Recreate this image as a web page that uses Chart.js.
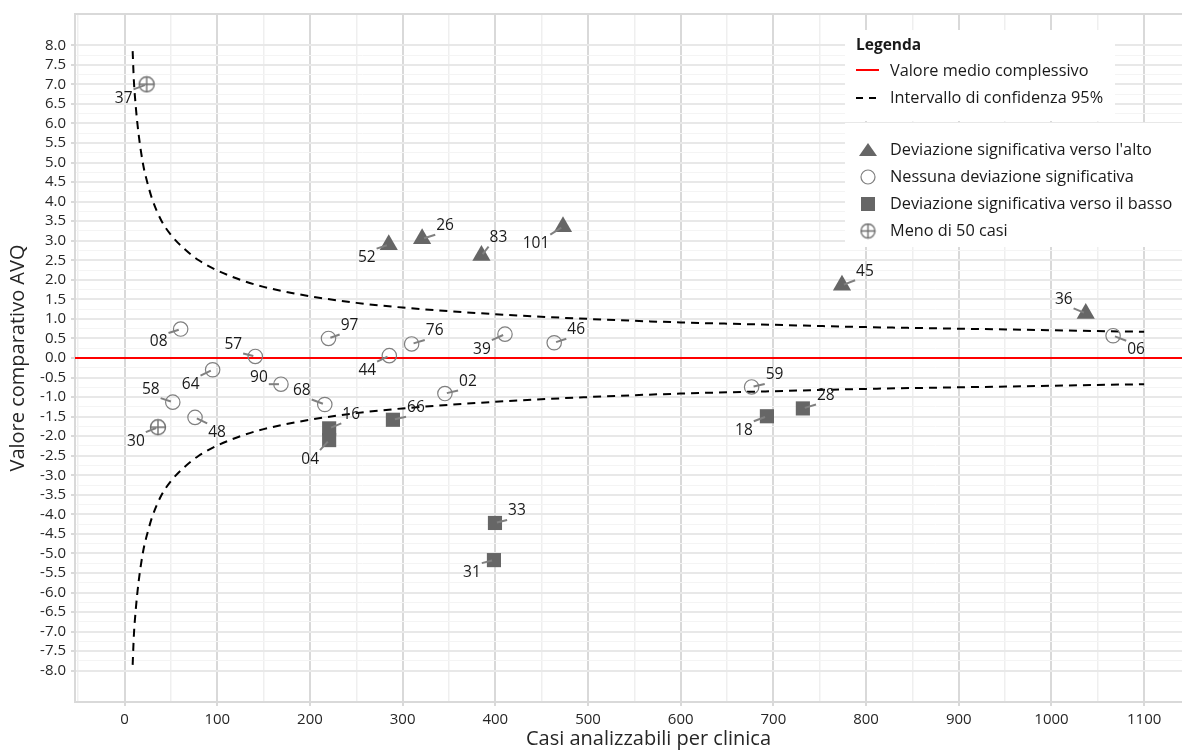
<!DOCTYPE html>
<html>
<head>
<meta charset="utf-8">
<script src="https://cdn.jsdelivr.net/npm/chart.js@4.4.0/dist/chart.umd.min.js"></script>
<style>
  html, body { margin: 0; background: #fff; overflow: hidden; }
  canvas { display: block; }
</style>
</head>
<body>
<!-- il grafico originale è ritagliato a destra: il canvas sborda oltre la finestra -->
<canvas id="grafico" width="1222" height="751"></canvas>
<script>
// Deviazione significativa verso l'alto
const altoId = ['52', '26', '83', '101', '45', '36'];
const altoCasi = [285, 321, 385, 473, 774, 1037];
const altoValori = [2.90, 3.05, 2.62, 3.36, 1.86, 1.14];

// Nessuna deviazione significativa
const nessunaId = ['08', '57', '64', '90', '68', '58', '48', '97', '76', '44', '39', '46', '02', '06', '59'];
const nessunaCasi = [60.5, 141, 95, 168.7, 216, 52, 76, 220, 309.7, 285.6, 410.4, 463.5, 345.6, 1066.5, 676.5];
const nessunaValori = [0.74, 0.04, -0.30, -0.67, -1.19, -1.13, -1.52, 0.50, 0.36, 0.06, 0.61, 0.39, -0.91, 0.57, -0.74];

// Deviazione significativa verso il basso
const bassoId = ['16', '04', '66', '33', '31', '28', '18'];
const bassoCasi = [220.7, 220.7, 289.5, 399.6, 398.5, 731.8, 693];
const bassoValori = [-1.80, -2.10, -1.58, -4.22, -5.17, -1.29, -1.49];

// Meno di 50 casi
const pochiId = ['37', '30'];
const pochiCasi = [23.8, 36];
const pochiValori = [7.0, -1.77];

// Intervallo di confidenza 95%
const ciCasi = [8.7, 10, 12, 15, 20, 25, 30, 40, 50, 65, 80, 100, 125, 150, 200, 250, 300, 400, 500, 600, 700, 800, 900, 1000, 1100];
const ciSup = [7.85, 7.1, 6.45, 5.75, 4.95, 4.45, 4.05, 3.5, 3.15, 2.78, 2.5, 2.24, 2.0, 1.82, 1.58, 1.41, 1.29, 1.12, 1.0, 0.91, 0.85, 0.79, 0.75, 0.71, 0.67];
const ciInf = [-7.85, -7.1, -6.45, -5.75, -4.95, -4.45, -4.05, -3.5, -3.15, -2.78, -2.5, -2.24, -2.0, -1.82, -1.58, -1.41, -1.29, -1.12, -1.0, -0.91, -0.85, -0.79, -0.75, -0.71, -0.67];

const valoreMedio = 0;
const xMin = -53.5, xMax = 1184;
const yMin = -8.8, yMax = 8.8;

// posizione delle etichette rispetto al punto (px)
const posEtichette = {
  '37': [-23, 14], '08': [-22, 13], '57': [-22, -12], '64': [-22, 15], '90': [-22, -7],
  '68': [-23, -14], '58': [-22, -13], '48': [22, 15], '30': [-22, 14], '97': [21, -13],
  '76': [23, -13], '44': [-22, 15], '39': [-23, 15], '46': [22, -13], '02': [23, -12],
  '52': [-22, 13], '26': [23, -13], '83': [17, -18], '101': [-27, 17], '45': [23, -14],
  '36': [-22, -14], '06': [23, 14], '59': [23, -12], '28': [23, -13], '18': [-23, 14],
  '16': [22, -14], '04': [-19, 19], '66': [23, -12], '33': [22, -12], '31': [-22, 12]
};

const FONT = '"Open Sans", "Noto Sans", sans-serif';
const grigio = '#666666';
const testo = '#262626';

function punti(xs, ys) {
  return xs.map((x, i) => ({ x: x, y: ys[i] }));
}

function cerchioCroce(r) {
  const c = document.createElement('canvas');
  const s = Math.ceil(r * 2 + 3);
  c.width = s; c.height = s;
  const g = c.getContext('2d');
  const m = s / 2;
  g.strokeStyle = '#6f6f6f';
  g.lineWidth = 1.4;
  g.beginPath(); g.arc(m, m, r, 0, Math.PI * 2); g.stroke();
  g.beginPath();
  g.moveTo(m - r, m); g.lineTo(m + r, m);
  g.moveTo(m, m - r); g.lineTo(m, m + r);
  g.stroke();
  return c;
}

const etichettePlugin = {
  id: 'etichette',
  afterDatasetsDraw(chart) {
    const ctx = chart.ctx;
    ctx.save();
    ctx.font = '15.5px ' + FONT;
    ctx.textAlign = 'center';
    ctx.textBaseline = 'middle';
    chart.data.datasets.forEach((ds, i) => {
      if (!ds.ids) return;
      chart.getDatasetMeta(i).data.forEach((pt, j) => {
        const id = ds.ids[j];
        const off = posEtichette[id];
        const lx = pt.x + off[0], ly = pt.y + off[1];
        const w = ctx.measureText(id).width / 2 + 1, h = 9;
        const cx = Math.max(lx - w, Math.min(pt.x, lx + w));
        const cy = Math.max(ly - h, Math.min(pt.y, ly + h));
        const dx = cx - pt.x, dy = cy - pt.y;
        const d = Math.hypot(dx, dy) || 1;
        ctx.strokeStyle = '#808080';
        ctx.lineWidth = 2;
        ctx.beginPath();
        ctx.moveTo(pt.x + dx / d * 2, pt.y + dy / d * 2);
        ctx.lineTo(cx, cy);
        ctx.stroke();
        ctx.fillStyle = '#1a1a1a';
        ctx.fillText(id, lx, ly);
      });
    });
    ctx.restore();
  }
};

const legendaPlugin = {
  id: 'legenda',
  beforeDatasetsDraw(chart) {
    const ctx = chart.ctx, a = chart.chartArea;
    ctx.save();
    ctx.strokeStyle = '#d9d9d9';
    ctx.lineWidth = 2;
    ctx.beginPath();
    ctx.moveTo(a.left, a.top);
    ctx.lineTo(a.right, a.top);
    ctx.stroke();
    ctx.restore();
  },
  afterDraw(chart) {
    const ctx = chart.ctx;
    ctx.save();
    ctx.fillStyle = '#fff';
    ctx.fillRect(845, 30, 270, 91);
    ctx.fillRect(845, 123, 377, 124);

    ctx.fillStyle = '#1a1a1a';
    ctx.textBaseline = 'middle';
    ctx.textAlign = 'left';
    ctx.font = 'bold 15.5px ' + FONT;
    ctx.fillText('Legenda', 856, 46);
    ctx.font = '16.3px ' + FONT;
    ctx.fillText('Valore medio complessivo', 890, 71);
    ctx.fillText('Intervallo di confidenza 95%', 890, 98);
    ctx.fillText("Deviazione significativa verso l'alto", 890, 150);
    ctx.fillText('Nessuna deviazione significativa', 890, 177);
    ctx.fillText('Deviazione significativa verso il basso', 890, 204);
    ctx.fillText('Meno di 50 casi', 890, 231);

    ctx.lineWidth = 2;
    ctx.strokeStyle = '#ff0000';
    ctx.beginPath(); ctx.moveTo(856, 70); ctx.lineTo(879, 70); ctx.stroke();
    ctx.strokeStyle = '#000';
    ctx.setLineDash([7, 6]);
    ctx.beginPath(); ctx.moveTo(856, 98); ctx.lineTo(879, 98); ctx.stroke();
    ctx.setLineDash([]);

    // simboli
    ctx.fillStyle = grigio;
    ctx.beginPath();
    ctx.moveTo(868, 143); ctx.lineTo(877, 156); ctx.lineTo(859, 156); ctx.closePath();
    ctx.fill();
    ctx.strokeStyle = '#7f7f7f';
    ctx.lineWidth = 1.2;
    ctx.beginPath(); ctx.arc(868, 177, 7, 0, Math.PI * 2); ctx.stroke();
    ctx.fillRect(861, 197, 14, 14);
    ctx.drawImage(cerchioCroce(7), 868 - 8.5, 231 - 8.5);
    ctx.restore();
  }
};

new Chart(document.getElementById('grafico'), {
  type: 'scatter',
  data: {
    datasets: [
      {
        label: "Deviazione significativa verso l'alto",
        ids: altoId,
        data: punti(altoCasi, altoValori),
        pointStyle: 'triangle',
        pointRadius: 10.5,
        backgroundColor: grigio,
        borderWidth: 0,
        order: 1
      },
      {
        label: 'Nessuna deviazione significativa',
        ids: nessunaId,
        data: punti(nessunaCasi, nessunaValori),
        pointStyle: 'circle',
        pointRadius: 7.2,
        backgroundColor: 'rgba(0,0,0,0)',
        borderColor: '#7f7f7f',
        borderWidth: 1.2,
        order: 1
      },
      {
        label: 'Deviazione significativa verso il basso',
        ids: bassoId,
        data: punti(bassoCasi, bassoValori),
        pointStyle: 'rect',
        pointRadius: 10,
        backgroundColor: grigio,
        borderWidth: 0,
        order: 1
      },
      {
        label: 'Meno di 50 casi',
        ids: pochiId,
        data: punti(pochiCasi, pochiValori),
        pointStyle: cerchioCroce(7.5),
        order: 1
      },
      {
        type: 'line',
        label: 'Valore medio complessivo',
        data: [{ x: xMin, y: valoreMedio }, { x: xMax, y: valoreMedio }],
        borderColor: '#ff0000',
        borderWidth: 2,
        pointRadius: 0,
        order: 2
      },
      {
        type: 'line',
        label: 'Intervallo di confidenza 95%',
        data: punti(ciCasi, ciSup),
        borderColor: '#000',
        borderWidth: 2,
        borderDash: [8, 6],
        pointRadius: 0,
        cubicInterpolationMode: 'monotone',
        order: 3
      },
      {
        type: 'line',
        label: 'Intervallo di confidenza 95% inf',
        data: punti(ciCasi, ciInf),
        borderColor: '#000',
        borderWidth: 2,
        borderDash: [8, 6],
        pointRadius: 0,
        cubicInterpolationMode: 'monotone',
        order: 3
      }
    ]
  },
  options: {
    responsive: false,
    animation: false,
    devicePixelRatio: 1,
    events: [],
    layout: { autoPadding: false, padding: { top: 14, right: 0, left: 0, bottom: 0 } },
    plugins: {
      legend: { display: false },
      tooltip: { enabled: false }
    },
    scales: {
      x: {
        type: 'linear',
        min: xMin,
        max: xMax,
        afterBuildTicks: function(axis) {
          const t = [];
          for (let v = -50; v <= 1150; v += 50) t.push({ value: v });
          axis.ticks = t;
        },
        afterFit: function(axis) {
          axis.height = 49;
          axis.paddingLeft = 0;
          axis.paddingRight = 0;
        },
        ticks: {
          autoSkip: false,
          maxRotation: 0,
          padding: 5,
          color: testo,
          font: { family: FONT, size: 15 },
          callback: function(v) { return (v % 100 === 0 && v <= 1100) ? String(v) : ''; }
        },
        grid: {
          color: ctx => (ctx.tick && ctx.tick.value % 100 === 0) ? '#d9d9d9' : '#efefef',
          lineWidth: ctx => (ctx.tick && ctx.tick.value % 100 === 0) ? 2 : 1.5,
          tickColor: ctx => (ctx.tick && ctx.tick.value % 100 === 0) ? '#d9d9d9' : 'rgba(0,0,0,0)',
          tickLength: 4
        },
        border: { color: '#d9d9d9', width: 2 },
        title: {
          display: true,
          text: 'Casi analizzabili per clinica',
          color: testo,
          font: { family: FONT, size: 20 },
          padding: { top: 0, bottom: 0 }
        }
      },
      y: {
        type: 'linear',
        min: yMin,
        max: yMax,
        afterBuildTicks: function(axis) {
          const t = [];
          for (let i = -32; i <= 32; i++) t.push({ value: i / 4 });
          axis.ticks = t;
        },
        afterFit: function(axis) {
          axis.width = 75;
          axis.paddingTop = 0;
          axis.paddingBottom = 0;
        },
        ticks: {
          autoSkip: false,
          padding: 5,
          color: testo,
          font: { family: FONT, size: 15 },
          callback: function(v) { return (Math.round(v * 4) % 2 === 0) ? v.toFixed(1) : ''; }
        },
        grid: {
          color: ctx => (ctx.tick && Math.round(ctx.tick.value * 4) % 2 === 0) ? '#e8e8e8' : '#f4f4f4',
          lineWidth: ctx => (ctx.tick && Math.round(ctx.tick.value * 4) % 2 === 0) ? 2 : 1,
          tickColor: ctx => (ctx.tick && Math.round(ctx.tick.value * 4) % 2 === 0) ? '#d9d9d9' : 'rgba(0,0,0,0)',
          tickLength: 4
        },
        border: { color: '#d9d9d9', width: 2 },
        title: {
          display: true,
          text: 'Valore comparativo AVQ',
          color: testo,
          font: { family: FONT, size: 20 },
          padding: { top: 6, bottom: 0 }
        }
      }
    }
  },
  plugins: [etichettePlugin, legendaPlugin]
});
</script>
</body>
</html>
